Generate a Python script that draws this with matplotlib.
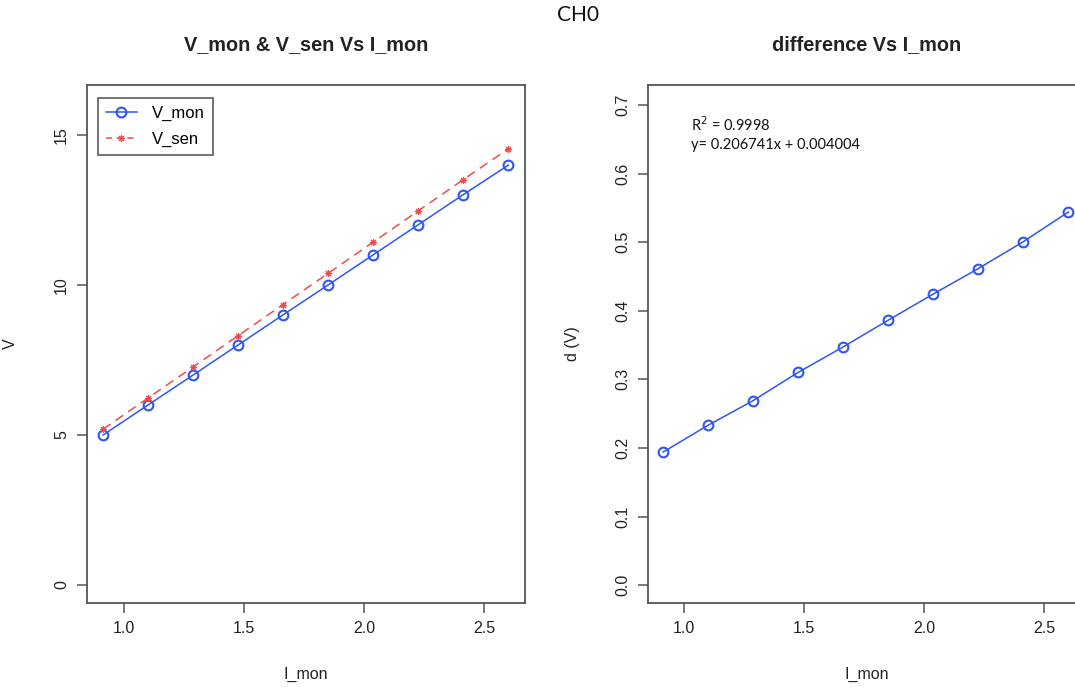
import matplotlib
matplotlib.use("Agg")
import matplotlib.pyplot as plt
from matplotlib.lines import Line2D

# Measurements for channel CH0
i_mon = [0.913, 1.100, 1.288, 1.475, 1.662, 1.850, 2.037, 2.224, 2.411, 2.602]
v_mon = [5, 6, 7, 8, 9, 10, 11, 12, 13, 14]
v_sen = [5.194, 6.233, 7.269, 8.310, 9.347, 10.386, 11.424, 12.461, 13.500, 14.544]
diff = [round(s - m, 3) for s, m in zip(v_sen, v_mon)]

x_ticks = [1.0, 1.5, 2.0, 2.5]
v_ticks = [0, 5, 10, 15]
d_ticks = [0.0, 0.1, 0.2, 0.3, 0.4, 0.5, 0.6, 0.7]
d_tick_labels = ["0.0", "0.1", "0.2", "0.3", "0.4", "0.5", "0.6", "0.7"]

fit_r2 = "0.9998"
fit_eq = "y= 0.206741x + 0.004004"

BLUE = "#2f55f5"
RED = "#f04a4a"
AXC = "#555555"
TXT = "#222222"

W, H = 1075, 689
fig = plt.figure(figsize=(W / 100, H / 100), dpi=100)
fig.patch.set_facecolor("white")

plt.rcParams["font.family"] = ["Liberation Sans", "DejaVu Sans"]

CIRCLE = dict(marker="o", ms=7, mfc="none", mec=BLUE, mew=1.5)
STAR = dict(marker=(8, 2, 0), ms=5, mec=RED, mew=0.8)


def style_axes(ax):
    for s in ax.spines.values():
        s.set_color(AXC)
        s.set_linewidth(1.3)
    ax.tick_params(axis="both", direction="out", length=7, width=1.1,
                   color=AXC, labelsize=11.5, labelcolor=TXT, pad=6)
    for lab in ax.get_yticklabels():
        lab.set_rotation(90)
        lab.set_va("center")


# Left panel: both voltages against I_mon
ax1 = fig.add_axes([87 / W, (H - 603) / H, 438 / W, 518 / H])
ax1.plot(i_mon, v_mon, color=BLUE, lw=1.1, **CIRCLE)
ax1.plot(i_mon, v_sen, color=RED, lw=1.1, ls=(0, (6, 4)), **STAR)
ax1.set_xlim(0.846, 2.671)
ax1.set_ylim(-0.6, 16.67)
ax1.set_xticks(x_ticks)
ax1.set_xticklabels([f"{t:.1f}" for t in x_ticks])
ax1.set_yticks(v_ticks)
ax1.set_yticklabels([str(t) for t in v_ticks])
style_axes(ax1)
ax1.set_xlabel("I_mon", fontsize=11.5, color=TXT, labelpad=22)
ax1.set_ylabel("V", fontsize=11.5, color=TXT)
ax1.yaxis.set_label_coords((18 - 87) / 438, 0.5)

handles = [
    Line2D([], [], color=BLUE, lw=1.1, **CIRCLE),
    Line2D([], [], color=RED, lw=1.1, ls=(0, (4, 3)), **STAR),
]
leg = ax1.legend(handles, ["V_mon", "V_sen"], loc="upper left",
                 bbox_to_anchor=(11 / 438, 1 - 13 / 518), fontsize=12,
                 frameon=True, fancybox=False, borderpad=0.45,
                 handlelength=1.9, handletextpad=0.9, labelspacing=0.7,
                 borderaxespad=0)
leg.get_frame().set_edgecolor("#333333")
leg.get_frame().set_linewidth(1.2)

# Right panel: difference against I_mon
ax2 = fig.add_axes([648 / W, (H - 603) / H, 438 / W, 518 / H])
ax2.plot(i_mon, diff, color=BLUE, lw=1.1, **CIRCLE)
ax2.set_xlim(0.85, 2.675)
ax2.set_ylim(-0.026, 0.729)
ax2.set_xticks(x_ticks)
ax2.set_xticklabels([f"{t:.1f}" for t in x_ticks])
ax2.set_yticks(d_ticks)
ax2.set_yticklabels(d_tick_labels)
style_axes(ax2)
ax2.set_xlabel("I_mon", fontsize=11.5, color=TXT, labelpad=22)
ax2.set_ylabel("d (V)", fontsize=11.5, color=TXT)
ax2.yaxis.set_label_coords((580 - 648) / 438, 0.5)

fig.text(306 / W, 1 - 45 / H, "V_mon & V_sen Vs I_mon", ha="center",
         va="center", fontsize=14.3, fontweight="bold", color=TXT)
fig.text(867 / W, 1 - 45 / H, "difference Vs I_mon", ha="center",
         va="center", fontsize=14.3, fontweight="bold", color=TXT)

fig.text(691 / W, 1 - 125 / H, "R$^{2}$ = " + fit_r2, ha="left",
         va="center", fontsize=10.5, color="#111111", family=["Lato", "DejaVu Sans"])
fig.text(691 / W, 1 - 145 / H, fit_eq, ha="left", va="center",
         fontsize=10.5, color="#111111", family=["Lato", "DejaVu Sans"])

fig.text(578 / W, 1 - 15 / H, "CH0", ha="center", va="center",
         fontsize=15, color="#111111", family=["Lato", "DejaVu Sans"])

fig.savefig("out.png", dpi=100)
